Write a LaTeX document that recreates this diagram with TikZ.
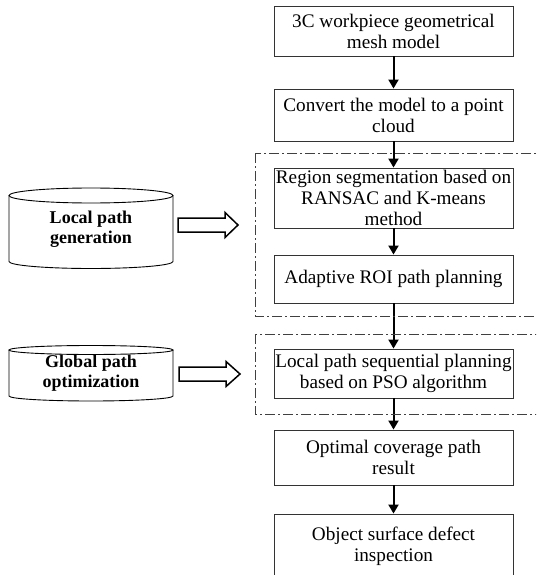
\documentclass[tikz,border=0pt]{standalone}
\usepackage{fontspec}
\setmainfont{Liberation Serif}
\usetikzlibrary{arrows.meta}

\begin{document}
\begin{tikzpicture}[x=1pt,y=1pt,>={Triangle[length=9pt,width=10pt]},
  box/.style={draw=black!80,line width=0.9pt,minimum width=239pt,inner sep=1pt,align=center,font=\fontsize{19.2}{21}\selectfont},
  lbl/.style={align=center,font=\bfseries\fontsize{18}{20.5}\selectfont},
  frame/.style={draw=black!75,line width=0.9pt,dash pattern=on 10pt off 3pt on 2pt off 3pt},
  flow/.style={->,line width=2pt},
  hollow/.style={draw,line width=1.5pt,fill=white,line join=miter}]
\useasboundingbox (0,0) rectangle (536,-575);
\clip (0,0) rectangle (536,-575);
% main flow
\node[box,minimum height=50pt] (mesh) at (393.5,-31) {3C workpiece geometrical\\mesh model};
\node[box,minimum height=52pt] (cloud) at (393.5,-115) {Convert the model to a point\\cloud};
\node[box,minimum height=60pt] (seg) at (393.5,-198) {Region segmentation based on\\RANSAC and K-means\\method};
\node[box,minimum height=48pt] (roi) at (393.5,-279) {Adaptive ROI path planning};
\node[box,minimum height=49pt] (pso) at (393.5,-373.5) {Local path sequential planning\\based on PSO algorithm};
\node[box,minimum height=55pt] (opt) at (393.5,-457.5) {Optimal coverage path\\result};
\node[box,minimum height=64pt] (insp) at (393.5,-546) {Object surface defect\\inspection};
\draw[flow] (mesh) -- (cloud);
\draw[flow] (cloud) -- (seg);
\draw[flow] (seg) -- (roi);
\draw[flow] (roi) -- (pso);
\draw[flow] (pso) -- (opt);
\draw[flow] (opt) -- (insp);
% stage frames
\draw[frame] (255,-153) rectangle (545,-316);
\draw[frame] (255,-334) rectangle (545,-414);
% stage cylinders
\draw[line width=0.9pt] (9,-195.5) -- (9,-261.5) arc[start angle=180,end angle=360,x radius=82,y radius=7] -- (173,-195.5);
\draw[line width=0.9pt] (91,-195.5) ellipse[x radius=82,y radius=7.5];
\node[lbl] (local) at (91,-229) {Local path\\generation};
\draw[line width=0.9pt] (9,-350) -- (9,-396) arc[start angle=180,end angle=360,x radius=82,y radius=5] -- (173,-350);
\draw[line width=0.9pt] (91,-350) ellipse[x radius=82,y radius=4.5];
\node[lbl] (global) at (91,-373) {Global path\\optimization};
% hollow arrows
\draw[hollow] (178,-218) -- (225,-218) -- (225,-212.5) -- (238,-225) -- (225,-237.5) -- (225,-232) -- (178,-232) -- cycle;
\draw[hollow] (179,-367) -- (226,-367) -- (226,-361.5) -- (240,-374) -- (226,-386.5) -- (226,-381) -- (179,-381) -- cycle;
\end{tikzpicture}
\end{document}
